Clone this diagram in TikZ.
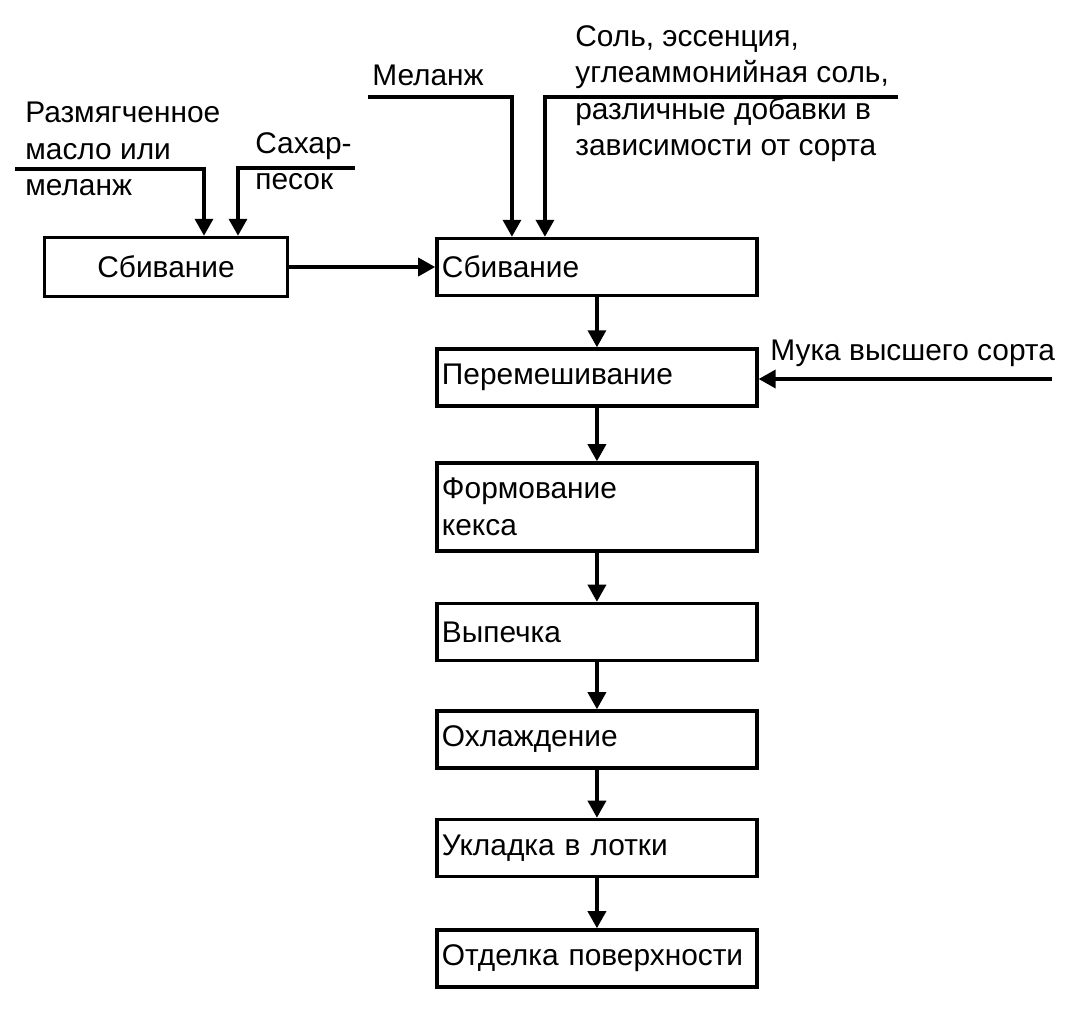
\documentclass[tikz,border=0pt]{standalone}
\usepackage{fontspec}
\setmainfont{Liberation Sans}
\usepackage{tikz}
\usetikzlibrary{arrows.meta,positioning}
\newcommand{\diagfont}{\fontsize{17}{20.8}\selectfont}

\begin{document}
\begin{tikzpicture}[x=0.02cm,y=-0.02cm,
node distance=1.0cm and 2.92cm,
box/.style={draw, line width=2pt, align=left, text width=6.2cm, inner xsep=0.1cm, minimum height=1.14cm, font=\diagfont},
first/.style={draw, line width=2pt, align=center, minimum width=4.86cm, minimum height=1.18cm, font=\diagfont},
txt/.style={anchor=north west, inner sep=0pt, align=left, font=\diagfont},
arrow/.style={-{Triangle[length=0.34cm,width=0.36cm]}, line width=2pt}
]
\useasboundingbox (0,0) rectangle (1089,1011);

\node[first] (whip1) at (166,267) {Сбивание};
\node[box, right=of whip1] (whip2) {Сбивание};
\node[box, below=of whip2] (mix) {Перемешивание};
\node[box, below=1.07cm of mix, minimum height=1.76cm] (form) {Формование\\кекса};
\node[box, below=0.98cm of form] (bake) {Выпечка};
\node[box, below=0.94cm of bake] (cool) {Охлаждение};
\node[box, below=0.96cm of cool] (tray) {Укладка в лотки};
\node[box, below=of tray] (finish) {Отделка поверхности};

\node[txt] (butter) at (25,102) {Размягченное\\масло или\\меланж};
\node[txt] (sugar) at (255,132) {Сахар-\\песок};
\node[txt] (melange) at (372,65) {Меланж};
\node[txt] (salt) at (575,25) {Соль, эссенция,\\углеаммонийная соль,\\различные добавки в\\зависимости от сорта};
\node[txt] (flour) at (770,340) {Мука высшего сорта};

\coordinate (butterin) at (15,169);
\coordinate (sugarin) at (355,168);
\coordinate (melangein) at (368,97);
\coordinate (saltin) at (898,97);
\coordinate (flourin) at (1052,379);

\draw[arrow] (butterin) -| ([xshift=0.76cm]whip1.north);
\draw[arrow] (sugarin) -| ([xshift=1.44cm]whip1.north);
\draw[arrow] (melangein) -| ([xshift=-1.7cm]whip2.north);
\draw[arrow] (saltin) -| ([xshift=-1.04cm]whip2.north);
\draw[arrow] (flourin) -- (flourin -| mix.east);

\draw[arrow] (whip1) -- (whip2);
\draw[arrow] (whip2) -- (mix);
\draw[arrow] (mix) -- (form);
\draw[arrow] (form) -- (bake);
\draw[arrow] (bake) -- (cool);
\draw[arrow] (cool) -- (tray);
\draw[arrow] (tray) -- (finish);
\end{tikzpicture}
\end{document}
